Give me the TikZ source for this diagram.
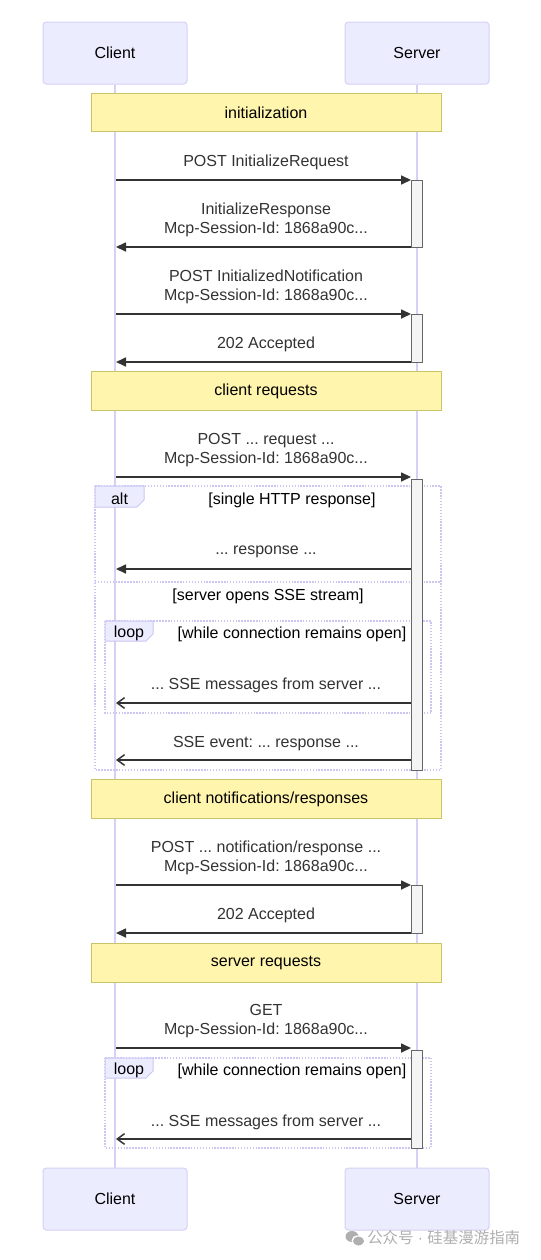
\documentclass[tikz,border=0pt]{standalone}
\usepackage{fontspec}
\setmainfont{Liberation Sans}
\newfontfamily\cjkfont{Noto Sans CJK SC}
\usetikzlibrary{arrows.meta}
\frenchspacing
\definecolor{actorfill}{HTML}{ECECFF}
\definecolor{actorline}{HTML}{D6D0F6}
\definecolor{notefill}{HTML}{FFF5AD}
\definecolor{noteline}{HTML}{C8C46A}
\definecolor{msgline}{HTML}{333333}
\definecolor{actfill}{HTML}{F4F4F4}
\definecolor{actline}{HTML}{666666}
\definecolor{frameline}{HTML}{CBC6F2}
\definecolor{wmark}{HTML}{AFAFAF}
\tikzset{
  every node/.style={font=\fontsize{12pt}{14.25pt}\selectfont, inner sep=0pt},
  actor/.style={draw=actorline, fill=actorfill, rounded corners=2.5pt, line width=0.75pt,
    minimum width=108pt, minimum height=46.5pt, text=black},
  notebox/.style={draw=noteline, fill=notefill, line width=0.75pt,
    minimum width=262.5pt, minimum height=29pt, text=black},
  lifeline/.style={draw=actorline, line width=1pt},
  msgtext/.style={text=msgline, align=center, yshift=-1.2pt},
  sync/.style={draw=msgline, line width=1.1pt, -{Triangle[length=7.5pt,width=6.8pt]}},
  async/.style={draw=msgline, line width=1.1pt, -{Straight Barb[length=5.5pt,width=8pt,line width=1.1pt]}},
  actbox/.style={draw=actline, fill=actfill, line width=0.75pt},
  frame/.style={draw=frameline, line width=1pt, dash pattern=on 1.1pt off 1.1pt},
  tab/.style={draw=frameline, fill=actorfill, line width=0.75pt},
  guard/.style={text=black, yshift=-1pt},
}
\begin{document}
\begin{tikzpicture}[x=0.75pt, y=-0.75pt]
\useasboundingbox[fill=white] (0,0) rectangle (540,1260);

% actors
\node[actor] (cTop) at (115,53) {Client};
\node[actor] (sTop) at (417,53) {Server};
\node[actor] (cBot) at (115,1199) {Client};
\node[actor] (sBot) at (417,1199) {Server};

% lifelines
\draw[lifeline] (cTop.south) -- (cBot.north);
\draw[lifeline] (sTop.south) -- (sBot.north);

% frames (behind)
\draw[frame] (95,486) rectangle (441,770);
\draw[frame] (95,582) -- (441,582);
\draw[frame] (105,621) rectangle (431,713);
\draw[frame] (105,1058) rectangle (431,1148);

% activation boxes
\draw[actbox] (411,180) rectangle (422,247);
\draw[actbox] (411,314) rectangle (422,362);
\draw[actbox] (411,479) rectangle (422,770);
\draw[actbox] (411,885) rectangle (422,933);
\draw[actbox] (411,1050) rectangle (422,1148);

% notes
\node[notebox] (n1) at (266,112.5) {initialization};
\node[notebox] (n2) at (266,391) {client requests};
\node[notebox] (n3) at (266,799) {client notifications/responses};
\node[notebox] (n4) at (266,963) {server requests};

% frame tabs and guards
\draw[tab] (95,486) -- (144,486) -- (144,500) -- (137,507) -- (95,507) -- cycle;
\node[guard] (altlab) at (119.5,497) {alt};
\node[guard] (g1) at (292,499.5) {[single HTTP response]};
\node[guard] (g2) at (268,595) {[server opens SSE stream]};
\draw[tab] (105,621) -- (153,621) -- (153,634) -- (146,641) -- (105,641) -- cycle;
\node[guard] (looplab1) at (129,632) {loop};
\node[guard] (g3) at (292,633.5) {[while connection remains open]};
\draw[tab] (105,1058) -- (153,1058) -- (153,1071) -- (146,1078) -- (105,1078) -- cycle;
\node[guard] (looplab2) at (129,1069) {loop};
\node[guard] (g4) at (292,1070.5) {[while connection remains open]};

% message end points
\foreach \n/\y in {a/180,b/247,c/314,d/362,e/477,f/569,g/703,h/760,i/885,j/933,k/1048,l/1139}{
  \coordinate (c\n) at (116,\y);
  \coordinate (s\n) at (411,\y);
}

% messages
\node[msgtext] (t1) at (266,160.5) {POST InitializeRequest};
\draw[sync] (ca) -- (sa);
\node[msgtext] (t2) at (266,218.5) {InitializeResponse\\Mcp-Session-Id: 1868a90c...};
\draw[sync] (sb) -- (cb);
\node[msgtext] (t3) at (266,285.5) {POST InitializedNotification\\Mcp-Session-Id: 1868a90c...};
\draw[sync] (cc) -- (sc);
\node[msgtext] (t4) at (266,342.5) {202 Accepted};
\draw[sync] (sd) -- (cd);
\node[msgtext] (t5) at (266,448.5) {POST ... request ...\\Mcp-Session-Id: 1868a90c...};
\draw[sync] (ce) -- (se);
\node[msgtext] (t6) at (266,550) {... response ...};
\draw[sync] (sf) -- (cf);
\node[msgtext] (t7) at (266,684) {... SSE messages from server ...};
\draw[async] (sg) -- (cg);
\node[msgtext] (t8) at (266,741.5) {SSE event: ... response ...};
\draw[async] (sh) -- (ch);
\node[msgtext] (t9) at (266,856) {POST ... notification/response ...\\Mcp-Session-Id: 1868a90c...};
\draw[sync] (ci) -- (si);
\node[msgtext] (t10) at (266,913.5) {202 Accepted};
\draw[sync] (sj) -- (cj);
\node[msgtext] (t11) at (266,1019) {GET\\Mcp-Session-Id: 1868a90c...};
\draw[sync] (ck) -- (sk);
\node[msgtext] (t12) at (266,1120.5) {... SSE messages from server ...};
\draw[async] (sl) -- (cl);

% watermark
\fill[wmark] (352,1236.5) ellipse (6.5 and 5.5);
\fill[white] (357.5,1240.5) ellipse (6 and 5);
\fill[wmark] (358.5,1241) ellipse (5.5 and 4.5);
\node[text=wmark, font=\cjkfont\fontsize{11.6pt}{13pt}\selectfont, anchor=west] (wm) at (367,1238) {公众号{\rmfamily\ ·\ }硅基漫游指南};
\end{tikzpicture}
\end{document}
